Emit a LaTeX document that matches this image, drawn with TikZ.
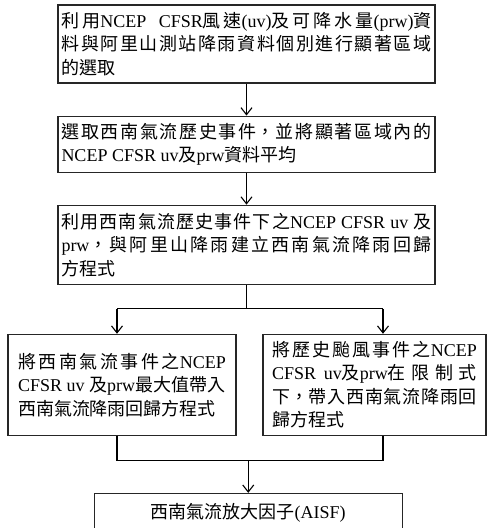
\documentclass[tikz,border=0pt]{standalone}
\usepackage{fontspec}
\setmainfont{Liberation Serif}
\newfontfamily\zhfont{Noto Sans CJK TC}
\newcommand{\zh}[1]{{\zhfont #1}}
\XeTeXlinebreaklocale "zh"
\XeTeXlinebreakskip=0pt plus 4pt
\setlength{\parindent}{0pt}
\usetikzlibrary{arrows.meta,positioning,calc}
\tikzset{
  box/.style={draw=black!85, line width=1.1pt, align=justify, inner xsep=3.5pt, inner ysep=4pt, font=\fontsize{18}{23.5}\selectfont},
  wide/.style={box, text width=370pt},
  half/.style={box, inner xsep=10pt, text width=208pt, minimum height=101pt},
  arrow/.style={-{Straight Barb[length=7pt,width=11pt]}, line width=1.1pt},
  link/.style={line width=1.1pt},
}

\begin{document}
\begin{tikzpicture}[node distance=32pt]
  \useasboundingbox (0,0) rectangle (487pt,-528pt);
  \node[wide, minimum height=78pt] (select) at (246.5pt,-44pt)
    {\zh{利用}NCEP\ \ CFSR\zh{風速}(uv)\zh{及可降水量}(prw)\zh{資}\linebreak
     \zh{料與阿里山測站降雨資料個別進行顯著區域}\linebreak
     \zh{的選取}};
  \node[wide, minimum height=56pt, below=of select] (event)
    {\zh{選取西南氣流歷史事件，並將顯著區域內的}\linebreak
     NCEP CFSR uv\zh{及}prw\zh{資料平均}};
  \node[wide, minimum height=79pt, below=of event] (regress)
    {\zh{利用西南氣流歷史事件下之}NCEP CFSR uv \zh{及}\linebreak
     prw\zh{，與阿里山降雨建立西南氣流降雨回歸}\linebreak
     \zh{方程式}};
  \node[half, below=49pt of regress.south west, anchor=north west, xshift=-50pt] (swmax)
    {\zh{將西南氣流事件之}NCEP\linebreak
     CFSR uv \zh{及}prw\zh{最大值帶入}\linebreak
     \zh{西南氣流降雨回歸方程式}};
  \node[half, inner xsep=9pt, text width=205pt, below=49pt of regress.south east, anchor=north east, xshift=51pt] (typhoon)
    {\zh{將歷史颱風事件之}NCEP\linebreak
     CFSR uv\zh{及}prw\zh{在限制式}\linebreak
     \zh{下，帶入西南氣流降雨回}\linebreak
     \zh{歸方程式}};
  \coordinate (mid) at ($(swmax.south)!.5!(typhoon.south)$);
  \node[box, align=center, minimum width=308pt, minimum height=38pt, below=57pt of mid] (aisf)
    {\zh{西南氣流放大因子}(AISF)};

  % connectors
  \draw[arrow] (select.south) -- (event.north);
  \draw[arrow] (event.south) -- (regress.north);
  \draw[link] (regress.south) -- ++(0,-24pt) coordinate (fork);
  \coordinate (forkL) at ($(fork)+(-129.5pt,0)$);
  \coordinate (forkR) at ($(fork)+(136.5pt,0)$);
  \draw[link] (forkL) -- (forkR);
  \draw[arrow] (forkL) -- (forkL |- swmax.north);
  \draw[arrow] (forkR) -- (forkR |- typhoon.north);
  \draw[link] (forkL |- swmax.south) -- ++(0,-25pt) coordinate (joinL)
    -- (joinL -| forkR) coordinate (joinR) -- (forkR |- typhoon.south);
  \draw[arrow] (joinL -| aisf) -- (aisf.north);
\end{tikzpicture}
\end{document}
